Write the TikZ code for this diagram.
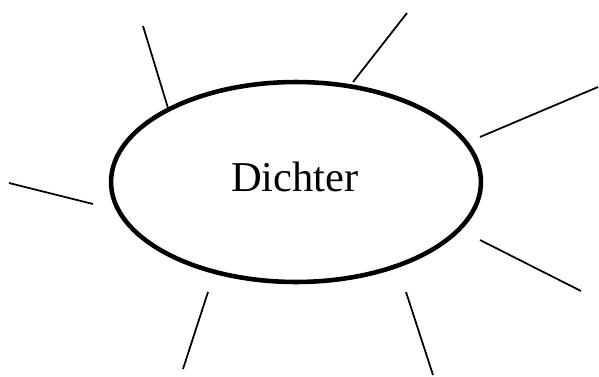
\documentclass[tikz,border=0pt]{standalone}
\usepackage{fontspec}
\setmainfont{Liberation Serif}
\usetikzlibrary{shapes.geometric}

\begin{document}
\begin{tikzpicture}[x=0.02cm, y=-0.02cm,
  centre/.style={draw, ellipse, line width=2.6pt, inner sep=0pt,
                 minimum width=7.4cm, minimum height=4cm},
  spoke/.style={line width=1pt}
]
  \useasboundingbox (0,0) rectangle (599,376);

  %% Centre
  \node[centre] (poet) at (296,182) {};
  \node[font=\fontsize{24.2pt}{29pt}\selectfont, inner sep=0pt] (name)
    at (295,176.5) {Dichter};

  %% Spoke ends
  \coordinate (a1) at (168,108); \coordinate (b1) at (143,26);
  \coordinate (a2) at (353,82);  \coordinate (b2) at (407,13);
  \coordinate (a3) at (480,137); \coordinate (b3) at (598,87);
  \coordinate (a4) at (93,204);  \coordinate (b4) at (9,183);
  \coordinate (a5) at (480,240); \coordinate (b5) at (581,291);
  \coordinate (a6) at (208,292); \coordinate (b6) at (183,369);
  \coordinate (a7) at (406,292); \coordinate (b7) at (433,375);

  %% Spokes
  \foreach \i in {1,...,7}
    \draw[spoke] (a\i) -- (b\i);

\end{tikzpicture}
\end{document}
